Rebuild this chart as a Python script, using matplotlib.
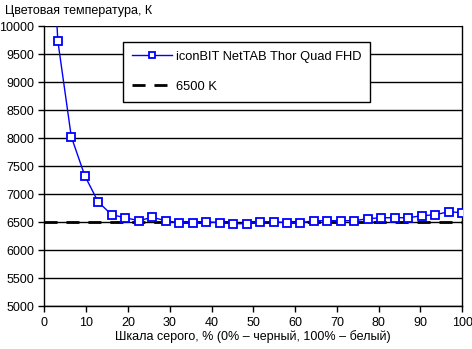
import numpy as np
import matplotlib.pyplot as plt

plt.rcParams['font.family'] = ['Liberation Sans', 'DejaVu Sans']

gray = [100 * i / 31 for i in range(32)]
temp = [14300, 9743, 8029, 7332, 6862, 6636, 6582, 6529, 6589, 6529,
        6493, 6493, 6511, 6493, 6475, 6475, 6511, 6511, 6493, 6493,
        6529, 6529, 6529, 6529, 6564, 6582, 6582, 6582, 6618, 6636,
        6689, 6671]
ref_x = [0, 100]
ref_y = [6500, 6500]

fig = plt.figure(figsize=(4.72, 3.49), dpi=100)
ax = fig.add_axes([0.0939, 0.1223, 0.8855, 0.8023])

ax.plot(gray, temp, color='#0000ff', lw=1, marker='s', ms=6,
        mfc='white', mec='#0000ff', mew=1.3, label='iconBIT NetTAB Thor Quad FHD',
        zorder=4)
ax.plot(ref_x, ref_y, color='black', lw=2, dashes=(4.7, 3.2),
        label='6500 K', zorder=3)

ax.set_xlim(0, 100)
ax.set_ylim(5000, 10000)
ax.set_xticks(np.arange(0, 101, 10))
ax.set_yticks(np.arange(5000, 10001, 500))
ax.yaxis.grid(True, color='black', lw=1)
ax.set_axisbelow(True)
ax.tick_params(direction='out', length=4, width=1, labelsize=9, colors='black')
for s in ax.spines.values():
    s.set_linewidth(1)
ax.spines['top'].set_visible(False)

ax.set_xlabel('Шкала серого, % (0% – черный, 100% – белый)', fontsize=9, labelpad=1)
fig.text(0.01, 0.985, 'Цветовая температура, К', fontsize=9, va='top', ha='left')

leg = ax.legend(loc='upper left', bbox_to_anchor=(0.1876, 0.945), fontsize=9.3,
                frameon=True, fancybox=False, edgecolor='black',
                framealpha=1, borderpad=0.7, labelspacing=1.4,
                handlelength=3.1, handletextpad=0.3, borderaxespad=0,
                markerscale=0.8)
leg.get_frame().set_linewidth(1)

fig.savefig('out.png', dpi=100)
